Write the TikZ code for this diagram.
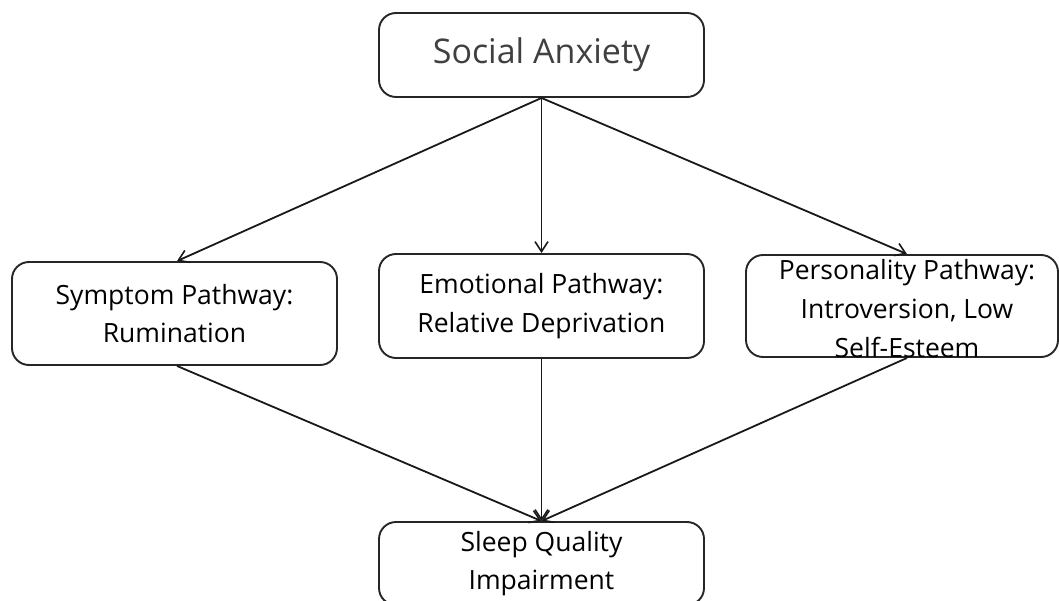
\documentclass[tikz,border=0pt]{standalone}
\usepackage{fontspec}
\setmainfont{Open Sans}
\usetikzlibrary{arrows.meta,calc}
\definecolor{boxline}{HTML}{262626}
\definecolor{titlegray}{HTML}{404040}
\begin{document}
\begin{tikzpicture}[x=1pt,y=-1pt,
  box/.style={draw=boxline,line width=1.9pt,rounded corners=17pt,inner sep=0pt,
    align=center,font=\fontsize{26.5}{38.5}\selectfont},
  conn/.style={draw=black!90,line width=1.8pt,-{Straight Barb[length=10pt,width=13pt,line width=1.6pt]}}]
\useasboundingbox (0,0) rectangle (1059,601);
\node[box,minimum width=325pt,minimum height=84pt,text=titlegray,
  font=\fontsize{34}{40}\selectfont] (sa) at (541.5,55) {Social Anxiety};
\node[box,minimum width=325pt,minimum height=103pt] (sp) at (174.5,313.5) {Symptom Pathway:\\Rumination};
\node[box,minimum width=325pt,minimum height=104pt] (ep) at (541.5,306) {Emotional Pathway:\\Relative Deprivation};
\node[box,minimum width=312pt,minimum height=102pt] (pp) at (902,306) {};
\node[align=center,inner sep=0pt,font=\fontsize{26.5}{39}\selectfont] (pt) at (907,309) {Personality Pathway:\\Introversion, Low\\Self-Esteem};
\node[box,minimum width=325pt,minimum height=83pt] (sq) at (541.5,563.5) {Sleep Quality\\Impairment};
\draw[conn] (sa.south) -- ([xshift=2.5pt]sp.north);
\draw[conn] (sa.south) -- (ep.north);
\draw[conn] (sa.south) -- ([xshift=5pt]pp.north);
\draw[conn] ([xshift=2.5pt]sp.south) -- (sq.north);
\draw[conn] (ep.south) -- (sq.north);
\draw[conn] ([xshift=5pt]pp.south) -- (sq.north);
\end{tikzpicture}
\end{document}
